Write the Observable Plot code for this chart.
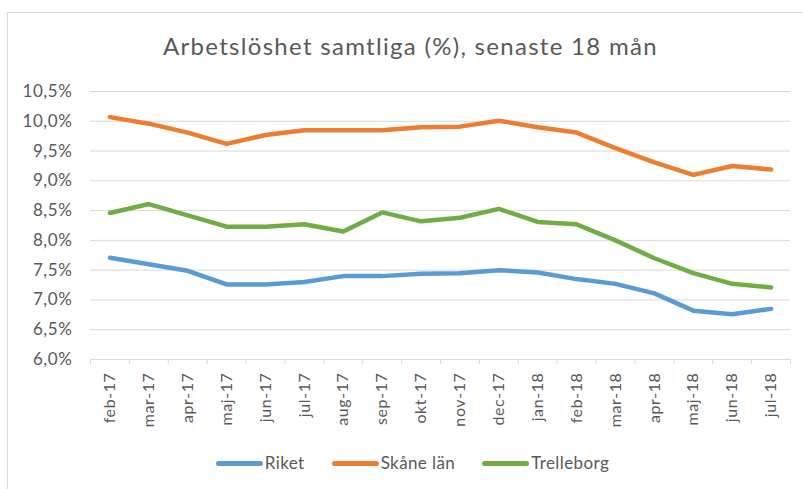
<!DOCTYPE html>
<html>
<head>
<meta charset="utf-8">
<script src="https://cdn.jsdelivr.net/npm/d3@7"></script>
<script src="https://cdn.jsdelivr.net/npm/@observablehq/plot@0.6"></script>
<style>
  html, body { margin: 0; padding: 0; background: #fff; }
  body { width: 803px; height: 489px; position: relative; overflow: hidden; font-family: Lato, "Open Sans", sans-serif; color: #595959; }
  #frame { position: absolute; left: 7px; top: 12px; width: 820px; height: 500px; border: 1px solid #d9d9d9; box-sizing: border-box; }
  #title { position: absolute; top: 30px; left: 18px; width: 785px; text-align: center; font-size: 24px; letter-spacing: 1.3px; line-height: 32px; color: #595959; }
  #chart { position: absolute; top: 70px; left: 0; }
  #legend { position: absolute; top: 451px; left: 20px; width: 785px; display: flex; justify-content: center; align-items: center; font-size: 17px; letter-spacing: 0.4px; line-height: 24px; color: #595959; }
  .item { display: flex; align-items: center; margin: 0 13.5px; }
  .sw { width: 47px; height: 5px; border-radius: 3px; margin-right: 2px; }
</style>
</head>
<body>
<div id="frame"></div>
<div id="title">Arbetslöshet samtliga (%), senaste 18 mån</div>
<div id="chart"></div>
<div id="legend"></div>
<script>
const months = ["feb-17","mar-17","apr-17","maj-17","jun-17","jul-17","aug-17","sep-17","okt-17","nov-17","dec-17","jan-18","feb-18","mar-18","apr-18","maj-18","jun-18","jul-18"];
const seriesNames = ["Riket", "Skåne län", "Trelleborg"];
const riket = [7.71, 7.60, 7.49, 7.26, 7.26, 7.30, 7.40, 7.40, 7.44, 7.45, 7.50, 7.46, 7.35, 7.27, 7.11, 6.82, 6.76, 6.85];
const skane = [10.07, 9.96, 9.81, 9.62, 9.77, 9.85, 9.85, 9.85, 9.90, 9.91, 10.01, 9.90, 9.81, 9.55, 9.31, 9.10, 9.25, 9.19];
const trelleborg = [8.46, 8.61, 8.42, 8.23, 8.23, 8.27, 8.15, 8.47, 8.32, 8.38, 8.53, 8.31, 8.27, 8.00, 7.70, 7.45, 7.27, 7.21];
const yTicks = [6.0, 6.5, 7.0, 7.5, 8.0, 8.5, 9.0, 9.5, 10.0, 10.5];
const colors = ["#5B9BD5", "#ED7D31", "#70AD47"];

const values = [riket, skane, trelleborg];
const data = [];
values.forEach((arr, s) => arr.forEach((v, i) => data.push({series: seriesNames[s], i, value: v})));
const idx = months.map((m, i) => i);
const boundaries = d3.range(months.length + 1).map(i => i - 0.5);
const fmt = d => d.toFixed(1).replace(".", ",") + "%";

const plot = Plot.plot({
  width: 803,
  height: 370,
  marginLeft: 90,
  marginRight: 13,
  marginTop: 21,
  marginBottom: 81,
  style: {fontFamily: "Lato, 'Open Sans', sans-serif", color: "#595959", background: "transparent", letterSpacing: "0.6px"},
  x: {type: "linear", domain: [-0.5, months.length - 0.5]},
  y: {domain: [6, 10.5]},
  color: {domain: seriesNames, range: colors},
  marks: [
    Plot.gridY(yTicks, {stroke: "#d9d9d9", strokeOpacity: 1, strokeWidth: 1}),
    Plot.axisY({ticks: yTicks, tickSize: 0, tickPadding: 18, tickFormat: fmt, fontSize: 17, fill: "#595959", label: null}),
    Plot.axisX({ticks: boundaries, tickSize: 5, tickFormat: () => "", stroke: "#d9d9d9", strokeOpacity: 1, label: null}),
    Plot.axisX({ticks: idx, tickSize: 0, tickPadding: 13, tickRotate: -90, tickFormat: i => months[i], fontSize: 16, fill: "#595959", label: null}),
    Plot.ruleY([6], {stroke: "#d9d9d9"}),
    Plot.line(data, {x: "i", y: "value", z: "series", stroke: "series", strokeWidth: 4.5, strokeLinejoin: "round", strokeLinecap: "round"})
  ]
});
document.getElementById("chart").appendChild(plot);

const legend = document.getElementById("legend");
seriesNames.forEach((n, k) => {
  const it = document.createElement("div");
  it.className = "item";
  const sw = document.createElement("div");
  sw.className = "sw";
  sw.style.background = colors[k];
  const t = document.createElement("span");
  t.textContent = n;
  it.appendChild(sw); it.appendChild(t);
  legend.appendChild(it);
});
</script>
</body>
</html>
